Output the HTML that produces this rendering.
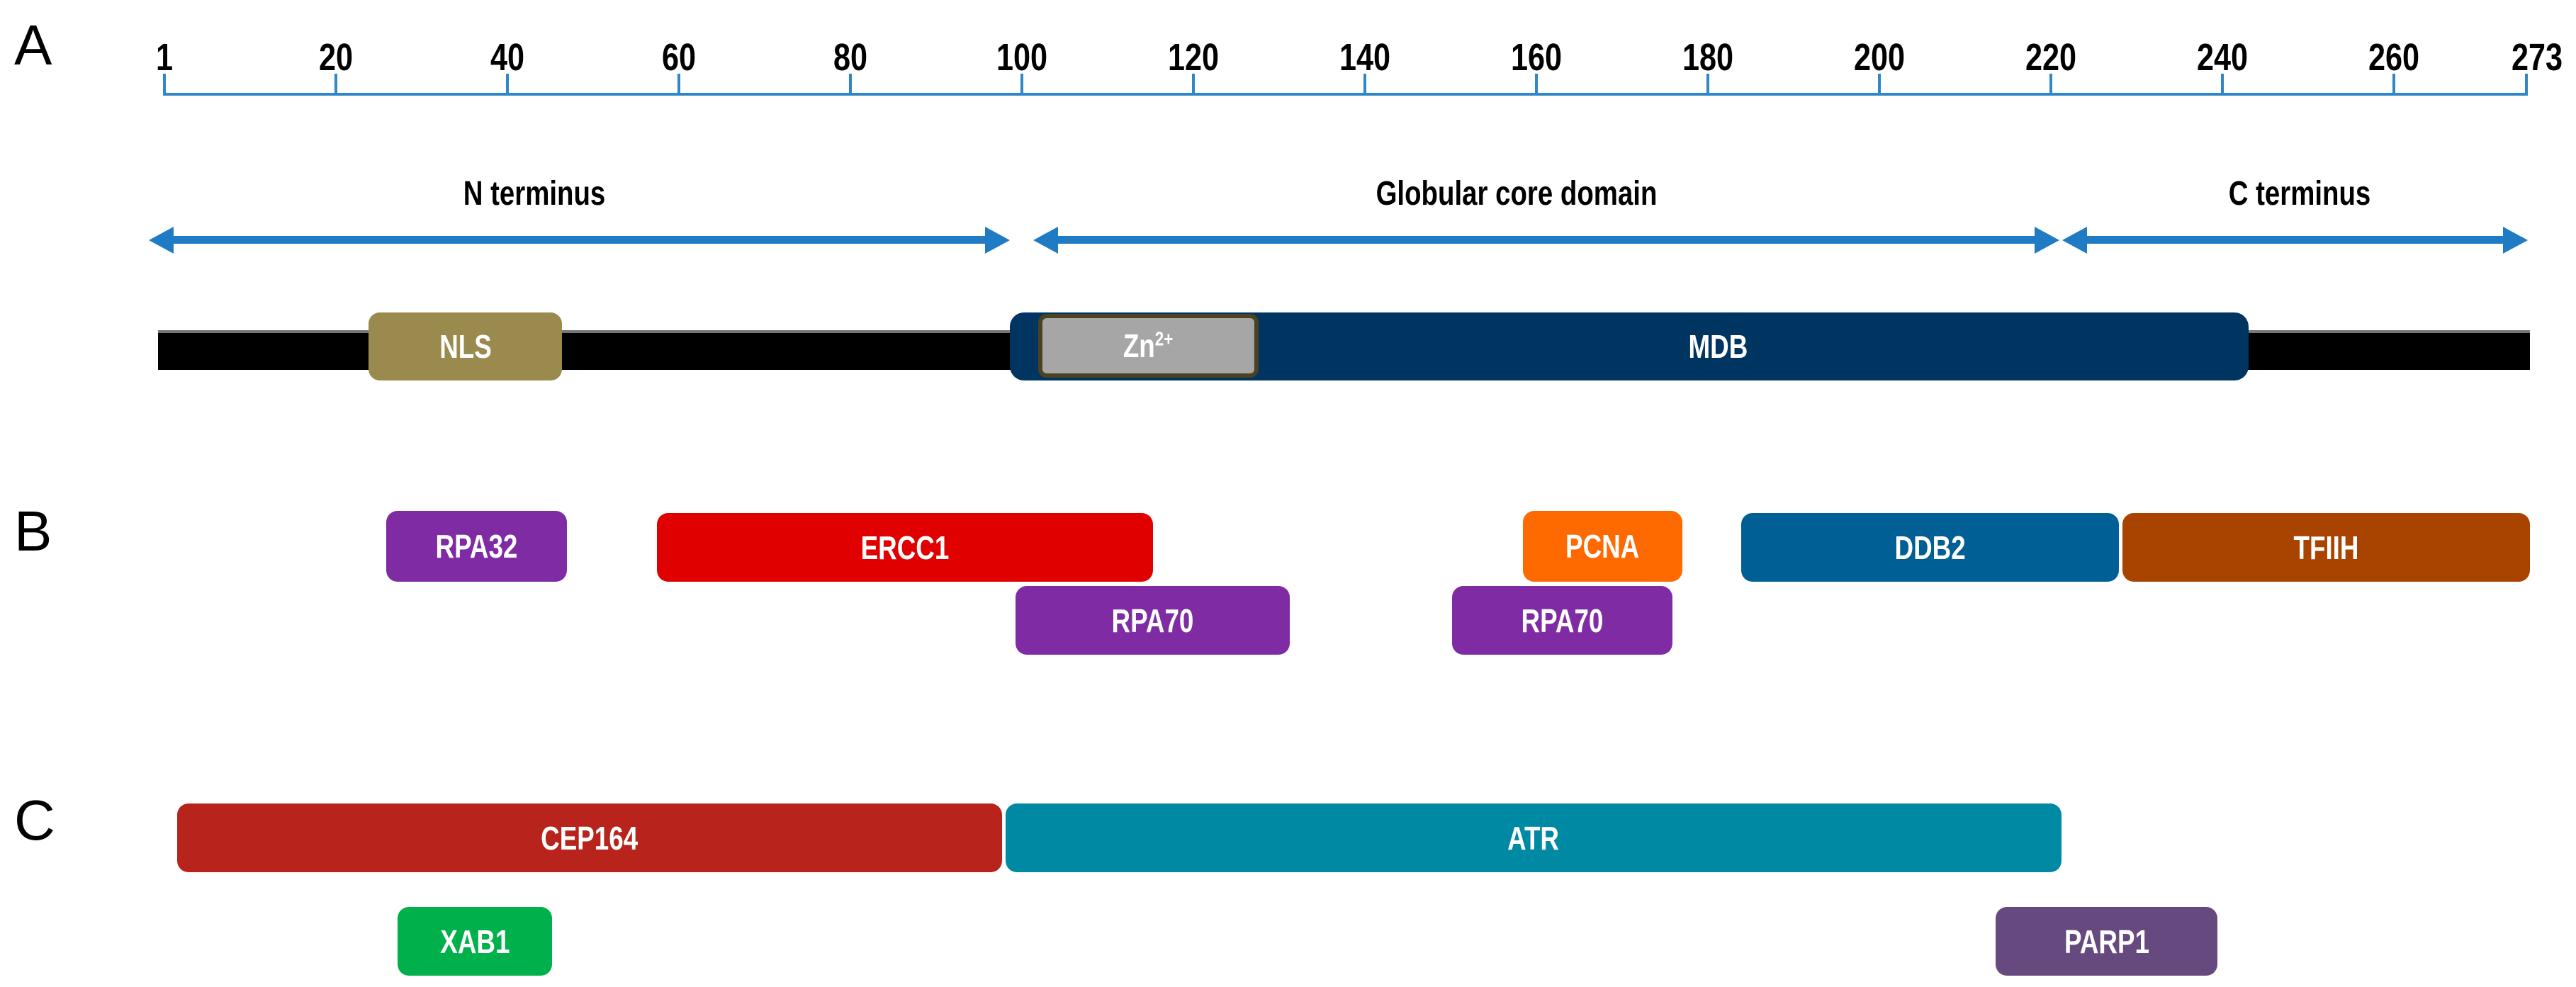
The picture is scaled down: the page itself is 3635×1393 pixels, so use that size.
<!DOCTYPE html>
<html><head><meta charset="utf-8"><style>
body{margin:0;width:3635px;height:1393px;background:#fff;position:relative;overflow:hidden;font-family:"Liberation Sans",sans-serif}
.b{position:absolute;border-radius:16px;color:#fff;font-weight:bold;font-size:46px;display:flex;align-items:center;justify-content:center}
.b span{display:inline-block;transform:scaleX(0.8)}
.t{position:absolute;font-weight:bold;color:#000;transform:translateX(-50%) scaleX(0.8);white-space:nowrap}
.L{position:absolute;font-size:80px;color:#000}
</style></head><body>
<div class="L" style="left:20px;top:18px">A</div>
<div class="L" style="left:20px;top:704px">B</div>
<div class="L" style="left:20px;top:1112px">C</div>
<svg width="3635" height="1393" style="position:absolute;left:0;top:0">
<g stroke="#2f86c9" stroke-width="4">
<line x1="230" y1="133" x2="3567" y2="133"/>
<line x1="232" y1="104" x2="232" y2="135"/><line x1="474" y1="104" x2="474" y2="135"/><line x1="716" y1="104" x2="716" y2="135"/><line x1="958" y1="104" x2="958" y2="135"/><line x1="1200" y1="104" x2="1200" y2="135"/><line x1="1442" y1="104" x2="1442" y2="135"/><line x1="1684" y1="104" x2="1684" y2="135"/><line x1="1926" y1="104" x2="1926" y2="135"/><line x1="2168" y1="104" x2="2168" y2="135"/><line x1="2410" y1="104" x2="2410" y2="135"/><line x1="2652" y1="104" x2="2652" y2="135"/><line x1="2894" y1="104" x2="2894" y2="135"/><line x1="3136" y1="104" x2="3136" y2="135"/><line x1="3378" y1="104" x2="3378" y2="135"/><line x1="3565" y1="104" x2="3565" y2="135"/>
</g>
<g fill="#1f7cc4">
<rect x="240" y="333" width="1150" height="11"/>
<polygon points="210,339 245,320 245,358"/><polygon points="1425,339 1390,320 1390,358"/>
<rect x="1490" y="333" width="1385" height="11"/>
<polygon points="1458,339 1493,320 1493,358"/><polygon points="2906,339 2871,320 2871,358"/>
<rect x="2940" y="333" width="595" height="11"/>
<polygon points="2910,339 2945,320 2945,358"/><polygon points="3567,339 3532,320 3532,358"/>
</g>
<rect x="223" y="466" width="3347" height="56" fill="#000"/>
<rect x="223" y="466" width="3347" height="4" fill="#777"/>
</svg>
<div class="t" style="left:232px;top:50px;font-size:54px">1</div>
<div class="t" style="left:474px;top:50px;font-size:54px">20</div>
<div class="t" style="left:716px;top:50px;font-size:54px">40</div>
<div class="t" style="left:958px;top:50px;font-size:54px">60</div>
<div class="t" style="left:1200px;top:50px;font-size:54px">80</div>
<div class="t" style="left:1442px;top:50px;font-size:54px">100</div>
<div class="t" style="left:1684px;top:50px;font-size:54px">120</div>
<div class="t" style="left:1926px;top:50px;font-size:54px">140</div>
<div class="t" style="left:2168px;top:50px;font-size:54px">160</div>
<div class="t" style="left:2410px;top:50px;font-size:54px">180</div>
<div class="t" style="left:2652px;top:50px;font-size:54px">200</div>
<div class="t" style="left:2894px;top:50px;font-size:54px">220</div>
<div class="t" style="left:3136px;top:50px;font-size:54px">240</div>
<div class="t" style="left:3378px;top:50px;font-size:54px">260</div>
<div class="t" style="left:3580px;top:50px;font-size:54px">273</div>
<div class="t" style="left:754px;top:246px;font-size:48px">N terminus</div>
<div class="t" style="left:2140px;top:246px;font-size:48px">Globular core domain</div>
<div class="t" style="left:3245px;top:246px;font-size:48px">C terminus</div>

<div class="b" style="left:520px;top:441px;width:273px;height:96px;background:#9a8a4e"><span>NLS</span></div>
<div class="b" style="left:1425px;top:441px;width:1748px;height:96px;background:#003561;border-radius:20px"><span style="margin-left:250px">MDB</span></div>
<div class="b" style="left:1465px;top:443px;width:311px;height:90px;background:#a6a6a6;border:6px solid #4a4220;box-sizing:border-box;border-radius:12px"><span>Zn<sup style="font-size:28px">2+</sup></span></div>

<div class="b" style="left:545px;top:721px;width:255px;height:100px;background:#7f2ba3"><span>RPA32</span></div>
<div class="b" style="left:927px;top:724px;width:700px;height:97px;background:#e00000"><span>ERCC1</span></div>
<div class="b" style="left:2149px;top:721px;width:225px;height:100px;background:#ff6a00"><span>PCNA</span></div>
<div class="b" style="left:2457px;top:724px;width:533px;height:97px;background:#005f94"><span>DDB2</span></div>
<div class="b" style="left:2995px;top:724px;width:575px;height:97px;background:#a94400"><span>TFIIH</span></div>
<div class="b" style="left:1433px;top:827px;width:387px;height:97px;background:#7f2ba3"><span>RPA70</span></div>
<div class="b" style="left:2049px;top:827px;width:311px;height:97px;background:#7f2ba3"><span>RPA70</span></div>

<div class="b" style="left:250px;top:1134px;width:1164px;height:97px;background:#b8241b"><span>CEP164</span></div>
<div class="b" style="left:1419px;top:1134px;width:1490px;height:97px;background:#0089a3"><span>ATR</span></div>
<div class="b" style="left:561px;top:1280px;width:218px;height:97px;background:#00b04a"><span>XAB1</span></div>
<div class="b" style="left:2816px;top:1280px;width:313px;height:97px;background:#664a7f"><span>PARP1</span></div>
</body></html>
